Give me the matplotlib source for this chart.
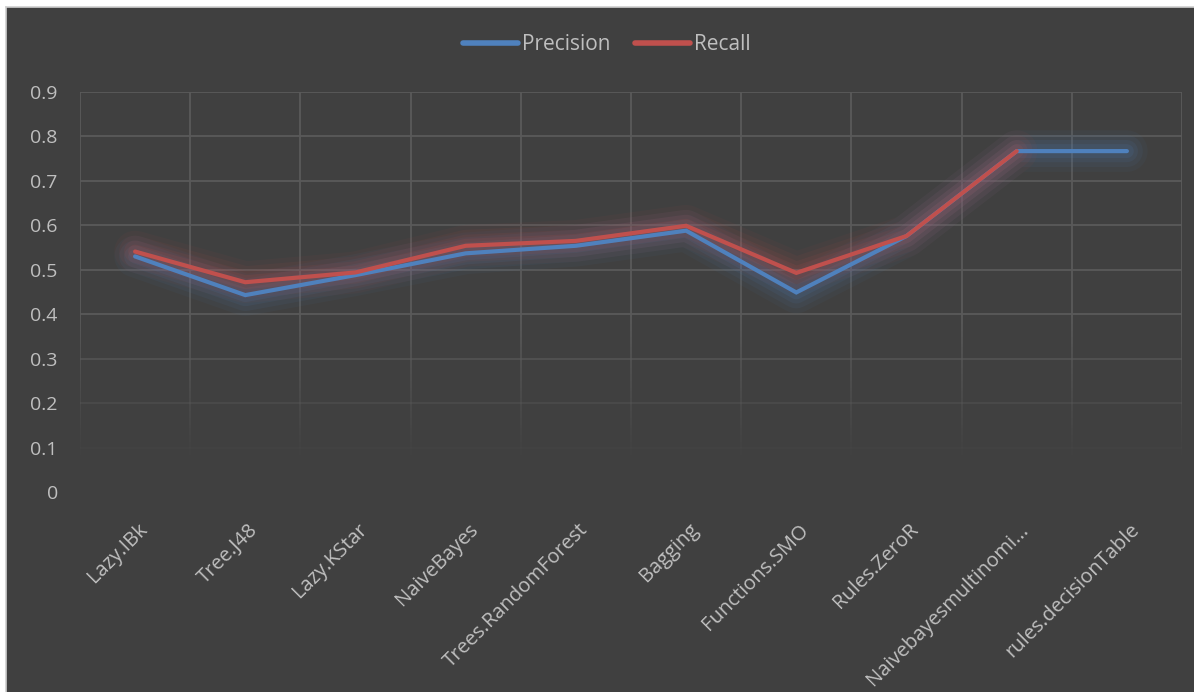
import numpy as np
import matplotlib
matplotlib.use("Agg")
import matplotlib.pyplot as plt
import matplotlib.transforms as mtransforms
from matplotlib.collections import LineCollection
from matplotlib.patches import Rectangle
from matplotlib.lines import Line2D

categories = ["Lazy.IBk", "Tree.J48", "Lazy.KStar", "NaiveBayes", "Trees.RandomForest",
              "Bagging", "Functions.SMO", "Rules.ZeroR", "Naivebayesmultinomi...",
              "rules.decisionTable"]
precision = [0.53, 0.443, 0.488, 0.537, 0.554, 0.588, 0.449, 0.576, 0.767, 0.767]
recall = [0.541, 0.472, 0.494, 0.554, 0.565, 0.599, 0.493, 0.576, 0.767, None]
y_ticks = [0, 0.1, 0.2, 0.3, 0.4, 0.5, 0.6, 0.7, 0.8, 0.9]
y_tick_labels = ["0", "0.1", "0.2", "0.3", "0.4", "0.5", "0.6", "0.7", "0.8", "0.9"]

BG = "#404040"
GRID = "#5a5a5a"
TEXT = "#bfbfbf"
BLUE = "#4f81bd"
RED = "#c0504d"

plt.rcParams["font.family"] = ["Open Sans", "DejaVu Sans"]

W, H = 1194, 692
fig = plt.figure(figsize=(W / 100, H / 100), dpi=100, facecolor="white")
fig.patches.append(Rectangle((6 / W, 0), 1 - 6 / W, 1 - 7 / H, transform=fig.transFigure,
                             facecolor=BG, edgecolor="none", zorder=-10))
fig.lines.append(Line2D([5.5 / W, 5.5 / W], [0, 1 - 6.5 / H], transform=fig.transFigure,
                        color="#d0d0d0", lw=1.2, zorder=-9))
fig.lines.append(Line2D([5.5 / W, 1], [1 - 6.5 / H, 1 - 6.5 / H], transform=fig.transFigure,
                        color="#d0d0d0", lw=1.2, zorder=-9))

ax = fig.add_axes([80 / W, 1 - 492 / H, 1102 / W, 400 / H])
ax.set_facecolor("none")
ax.set_xlim(-0.5, len(categories) - 0.5)
ax.set_ylim(0, 0.9)
for s in ax.spines.values():
    s.set_visible(False)


def fade(y):
    return float(np.clip((y - 0.07) / 0.33, 0, 1))


# horizontal gridlines, fading towards the bottom
for y in y_ticks:
    a = fade(y)
    if a > 0:
        ax.axhline(y, color=GRID, lw=1.3, alpha=a, zorder=1)

# vertical gridlines on category boundaries, fading downward
ys = np.linspace(0.0, 0.9, 120)
segs, cols = [], []
for xb in np.arange(-0.5, len(categories), 1.0):
    for y0, y1 in zip(ys[:-1], ys[1:]):
        a = fade((y0 + y1) / 2)
        if a > 0:
            segs.append([(xb, y0), (xb, y1)])
            cols.append((0x5a / 255, 0x5a / 255, 0x5a / 255, a))
ax.add_collection(LineCollection(segs, colors=cols, linewidths=1.3, zorder=1))

x = np.arange(len(categories))
rec = np.array([np.nan if v is None else v for v in recall], dtype=float)
prec = np.array(precision, dtype=float)

# soft glow under each series
for vals, c in [(prec, BLUE), (rec, RED)]:
    for lw, al in [(30, 0.05), (23, 0.07), (16, 0.09), (10, 0.12)]:
        ax.plot(x, vals, color=c, lw=lw, alpha=al, solid_capstyle="round",
                solid_joinstyle="round", zorder=2)

ax.plot(x, prec, color=BLUE, lw=3.0, solid_capstyle="round", solid_joinstyle="miter",
        zorder=3, label="Precision")
ax.plot(x, rec, color=RED, lw=3.0, solid_capstyle="round", solid_joinstyle="miter",
        zorder=4, label="Recall")

ax.set_yticks(y_ticks)
ax.set_yticklabels(y_tick_labels)
ax.set_xticks(x)
ax.set_xticklabels(categories, rotation=45, ha="right", va="top", rotation_mode="anchor")
ax.tick_params(axis="y", length=0, colors=TEXT, labelsize=14, pad=16)
ax.tick_params(axis="x", length=0, colors=TEXT, labelsize=14.5, pad=20)
shift = mtransforms.ScaledTranslation(2 / 100, 0, fig.dpi_scale_trans)
for lbl in ax.get_xticklabels():
    lbl.set_transform(lbl.get_transform() + shift)

leg = ax.legend(loc="center", bbox_to_anchor=(607 / W, 1 - 45 / H), bbox_transform=fig.transFigure,
                ncol=2, frameon=False, fontsize=15, handlelength=2.65, handletextpad=0.2,
                columnspacing=1.15, labelcolor=TEXT)
for h in leg.legend_handles:
    h.set_linewidth(4.0)

fig.savefig("out.png", dpi=100, facecolor="white")
